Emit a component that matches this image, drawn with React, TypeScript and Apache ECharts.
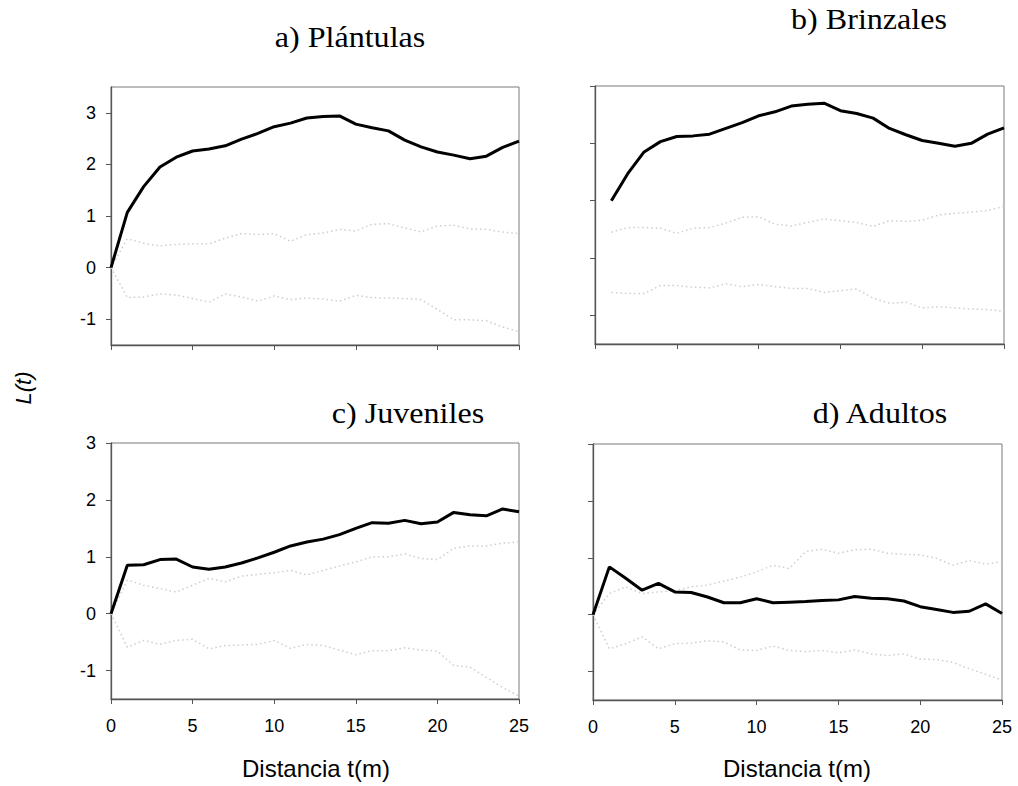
import React, { useEffect, useRef } from "react";
import * as echarts from "echarts";

const distances = [0, 1, 2, 3, 4, 5, 6, 7, 8, 9, 10, 11, 12, 13, 14, 15, 16, 17, 18, 19, 20, 21, 22, 23, 24, 25];
const distancesB = [1, 2, 3, 4, 5, 6, 7, 8, 9, 10, 11, 12, 13, 14, 15, 16, 17, 18, 19, 20, 21, 22, 23, 24, 25];
const xTicks = [0, 5, 10, 15, 20, 25];
const yTicks = [-1, 0, 1, 2, 3];

// a) Plántulas
const aObs = [0, 1.07, 1.57, 1.95, 2.14, 2.26, 2.3, 2.36, 2.49, 2.6, 2.73, 2.8, 2.9, 2.93, 2.94, 2.78, 2.71, 2.65, 2.47, 2.34, 2.24, 2.18, 2.11, 2.16, 2.33, 2.45];
const aUp = [0, 0.56, 0.47, 0.42, 0.45, 0.46, 0.46, 0.57, 0.66, 0.64, 0.66, 0.51, 0.64, 0.67, 0.74, 0.71, 0.84, 0.85, 0.77, 0.69, 0.81, 0.82, 0.75, 0.74, 0.69, 0.66];
const aLo = [0, -0.58, -0.57, -0.51, -0.53, -0.6, -0.67, -0.51, -0.57, -0.65, -0.55, -0.62, -0.59, -0.61, -0.65, -0.54, -0.58, -0.59, -0.6, -0.62, -0.81, -1.01, -1.01, -1.03, -1.15, -1.24];

// b) Brinzales (starts at t = 1)
const bObs = [1.0, 1.47, 1.85, 2.03, 2.12, 2.13, 2.16, 2.26, 2.36, 2.48, 2.55, 2.65, 2.68, 2.7, 2.57, 2.52, 2.44, 2.26, 2.15, 2.05, 2.0, 1.95, 2.0, 2.16, 2.27];
const bUp = [0.45, 0.53, 0.53, 0.52, 0.43, 0.52, 0.53, 0.61, 0.71, 0.72, 0.59, 0.56, 0.62, 0.68, 0.65, 0.62, 0.55, 0.65, 0.64, 0.66, 0.75, 0.78, 0.8, 0.83, 0.9];
const bLo = [-0.6, -0.62, -0.62, -0.48, -0.48, -0.51, -0.52, -0.45, -0.5, -0.46, -0.5, -0.53, -0.53, -0.6, -0.57, -0.54, -0.7, -0.79, -0.77, -0.87, -0.85, -0.87, -0.89, -0.9, -0.93];

// c) Juveniles
const cObs = [0, 0.85, 0.86, 0.95, 0.96, 0.82, 0.78, 0.82, 0.89, 0.98, 1.08, 1.19, 1.26, 1.31, 1.39, 1.5, 1.6, 1.59, 1.64, 1.58, 1.61, 1.78, 1.74, 1.72, 1.84, 1.79];
const cUp = [0, 0.59, 0.5, 0.44, 0.38, 0.5, 0.62, 0.56, 0.66, 0.69, 0.72, 0.76, 0.68, 0.76, 0.84, 0.91, 1.0, 1.0, 1.05, 0.97, 0.95, 1.15, 1.19, 1.19, 1.24, 1.26];
const cLo = [0, -0.59, -0.47, -0.54, -0.47, -0.45, -0.62, -0.56, -0.55, -0.54, -0.47, -0.61, -0.54, -0.56, -0.64, -0.72, -0.65, -0.65, -0.6, -0.64, -0.66, -0.91, -0.94, -1.12, -1.3, -1.45];

// d) Adultos
const dObs = [0, 0.84, 0.64, 0.43, 0.55, 0.4, 0.39, 0.31, 0.21, 0.21, 0.28, 0.21, 0.22, 0.23, 0.25, 0.26, 0.32, 0.29, 0.28, 0.24, 0.14, 0.09, 0.04, 0.06, 0.19, 0.02];
const dUp = [0, 0.37, 0.49, 0.37, 0.4, 0.42, 0.49, 0.52, 0.59, 0.66, 0.75, 0.87, 0.81, 1.11, 1.15, 1.08, 1.14, 1.15, 1.08, 1.06, 1.05, 0.99, 0.87, 0.95, 0.89, 0.93];
const dLo = [0, -0.6, -0.51, -0.39, -0.6, -0.51, -0.5, -0.46, -0.48, -0.62, -0.63, -0.55, -0.63, -0.65, -0.63, -0.67, -0.62, -0.69, -0.72, -0.69, -0.78, -0.79, -0.84, -0.95, -1.05, -1.15];

const panelTitles = ["a) Plántulas", "b) Brinzales", "c) Juveniles", "d) Adultos"];
const xTitle = "Distancia t(m)";
const yTitle = "L(t)";

const SANS = "'Liberation Sans', Arial, sans-serif";
const SERIF = "'Liberation Serif', 'Times New Roman', serif";

const pair = (xs: number[], ys: number[]) => ys.map((v, i) => [xs[i], v]);

export default function App() {
  const ref = useRef<HTMLDivElement>(null);
  useEffect(() => {
    if (!ref.current) return;
    const chart = echarts.init(ref.current, null, { renderer: "svg" });

    const grids = [
      { left: 111, top: 87, width: 408, height: 258 },
      { left: 595, top: 86, width: 409, height: 258 },
      { left: 111, top: 443, width: 408, height: 256 },
      { left: 593, top: 444, width: 409, height: 256 },
    ];
    const yMax = [3.5, 3, 3, 3];
    const showXLabels = [false, false, true, true];
    const showYLabels = [true, false, true, false];

    const panels = [
      { xs: distances, obs: aObs, up: aUp, lo: aLo },
      { xs: distancesB, obs: bObs, up: bUp, lo: bLo },
      { xs: distances, obs: cObs, up: cUp, lo: cLo },
      { xs: distances, obs: dObs, up: dUp, lo: dLo },
    ];

    const series: any[] = [];
    panels.forEach((p, i) => {
      [p.up, p.lo].forEach((env) => {
        series.push({
          type: "line",
          xAxisIndex: i,
          yAxisIndex: i,
          data: pair(p.xs, env),
          symbol: "none",
          lineStyle: { color: "#cdcdcd", width: 1.5, type: [1.5, 3] },
          z: 2,
        });
      });
      series.push({
        type: "line",
        xAxisIndex: i,
        yAxisIndex: i,
        data: pair(p.xs, p.obs),
        symbol: "none",
        lineStyle: { color: "#000", width: 3 },
        z: 3,
      });
    });

    const titlePos = [
      [350, 37],
      [869, 19],
      [408, 413],
      [880, 413],
    ];

    const option: any = {
      animation: false,
      backgroundColor: "#fff",
      grid: grids.map((g) => ({ ...g, show: true, borderColor: "#7a7a7a", borderWidth: 1, backgroundColor: "transparent" })),
      xAxis: grids.map((_, i) => ({
        type: "value",
        gridIndex: i,
        min: 0,
        max: 25,
        interval: 5,
        axisLine: { show: true, onZero: false, lineStyle: { color: "#555", width: 1.3 } },
        axisTick: { show: true, inside: false, length: 5, lineStyle: { color: "#555" } },
        axisLabel: {
          show: showXLabels[i],
          customValues: xTicks,
          margin: 18,
          fontSize: 18,
          color: "#000",
          fontFamily: SANS,
        },
        splitLine: { show: false },
      })),
      yAxis: grids.map((_, i) => ({
        type: "value",
        gridIndex: i,
        min: -1.5,
        max: yMax[i],
        axisLine: { show: true, onZero: false, lineStyle: { color: "#555", width: 1.3 } },
        axisTick: { show: true, inside: false, length: 5, customValues: yTicks, lineStyle: { color: "#555" } },
        axisLabel: {
          show: showYLabels[i],
          customValues: yTicks,
          margin: 15,
          fontSize: 18,
          color: "#000",
          fontFamily: SANS,
        },
        splitLine: { show: false },
      })),
      series,
      graphic: [
        ...panelTitles.map((t, i) => ({
          type: "text",
          x: titlePos[i][0],
          y: titlePos[i][1],
          scaleX: 1.07,
          style: { text: t, font: `30px ${SERIF}`, fill: "#000", textAlign: "center", textVerticalAlign: "middle" },
        })),
        { type: "text", x: 316, y: 768, style: { text: xTitle, font: `24px ${SANS}`, fill: "#000", textAlign: "center", textVerticalAlign: "middle" } },
        { type: "text", x: 797, y: 768, style: { text: xTitle, font: `24px ${SANS}`, fill: "#000", textAlign: "center", textVerticalAlign: "middle" } },
        { type: "text", x: 23, y: 388, rotation: Math.PI / 2, style: { text: yTitle, font: `italic 22px ${SANS}`, fill: "#000", textAlign: "center", textVerticalAlign: "middle" } },
      ],
    };
    chart.setOption(option);
    return () => chart.dispose();
  }, []);

  return <div ref={ref} style={{ position: "absolute", left: 0, top: 0, width: 1018, height: 786 }} />;
}
